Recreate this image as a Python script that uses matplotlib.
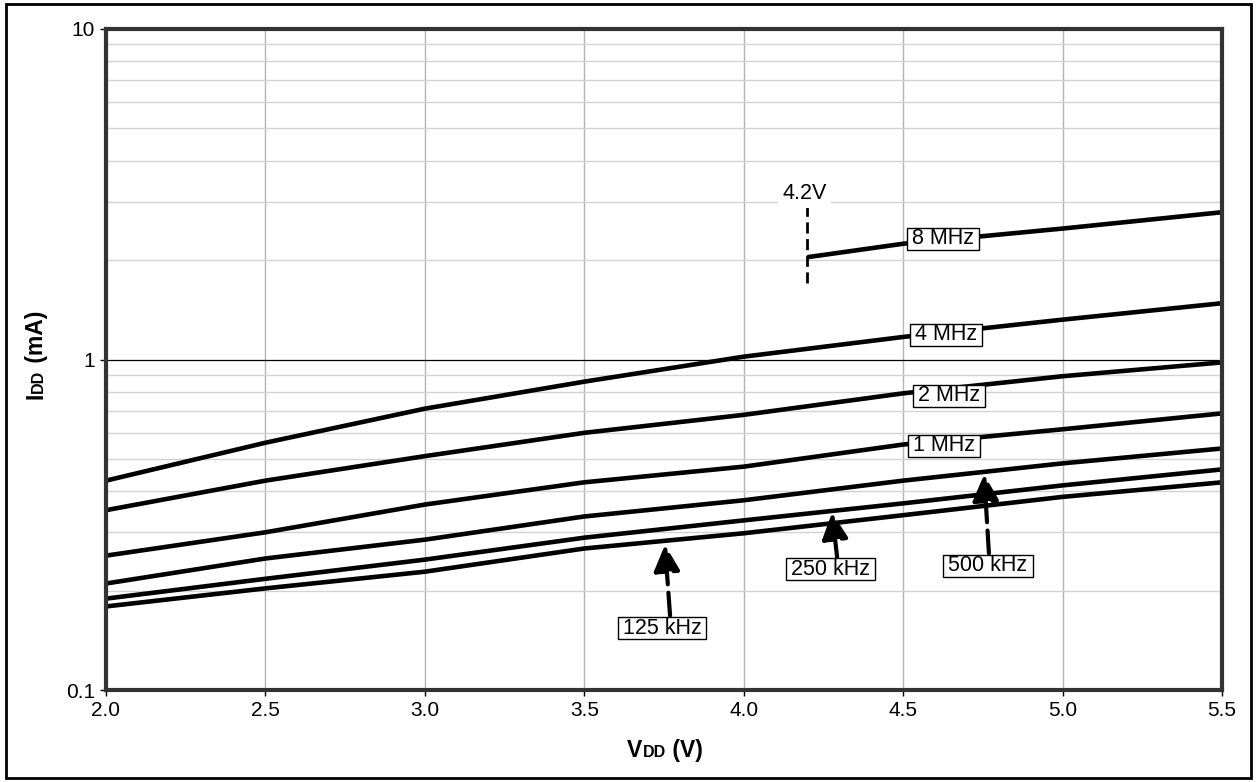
import numpy as np
import matplotlib
matplotlib.use("Agg")
import matplotlib.pyplot as plt
import matplotlib.ticker as mticker
import matplotlib.transforms as mtransforms
from matplotlib.patches import Rectangle

plt.rcParams['font.family'] = ['Liberation Sans', 'DejaVu Sans']

# supply voltage (V)
vdd = [2.0, 2.5, 3.0, 3.5, 4.0, 4.5, 5.0, 5.5]
vdd_8m = [4.2, 4.5, 5.0, 5.5]

# IDD (mA)
idd_125k = [0.179, 0.203, 0.228, 0.268, 0.298, 0.338, 0.384, 0.425]
idd_250k = [0.189, 0.217, 0.248, 0.289, 0.326, 0.367, 0.416, 0.465]
idd_500k = [0.210, 0.250, 0.285, 0.335, 0.375, 0.430, 0.485, 0.538]
idd_1m = [0.255, 0.300, 0.364, 0.425, 0.474, 0.553, 0.615, 0.687]
idd_2m = [0.350, 0.430, 0.510, 0.600, 0.680, 0.790, 0.890, 0.980]
idd_4m = [0.430, 0.560, 0.710, 0.857, 1.020, 1.170, 1.320, 1.480]
idd_8m = [2.04, 2.24, 2.49, 2.79]

xticks = [2.0, 2.5, 3.0, 3.5, 4.0, 4.5, 5.0, 5.5]
yticks = [0.1, 1, 10]
ytick_labels = ['0.1', '1', '10']

W, H = 1256, 782
fig = plt.figure(figsize=(W / 100, H / 100), dpi=100)
ax = fig.add_axes([106 / W, 1 - 690 / H, (1222 - 106) / W, (690 - 29) / H])

ax.set_yscale('log')
ax.set_xlim(2.0, 5.5)
ax.set_ylim(0.1, 10)

# grid
for v in xticks[1:-1]:
    ax.axvline(v, color='#b4b4b4', lw=1, zorder=0)
for dec in [0.1, 1]:
    for k in range(2, 10):
        ax.axhline(dec * k, color='#d2d2d2', lw=1, zorder=0)
ax.axhline(1, color='black', lw=0.9, zorder=0.5)

lw_curve = 3.3
for y in [idd_125k, idd_250k, idd_500k, idd_1m, idd_2m, idd_4m]:
    ax.plot(vdd, y, color='black', lw=lw_curve, solid_capstyle='butt', zorder=3)
ax.plot(vdd_8m, idd_8m, color='black', lw=lw_curve, solid_capstyle='butt', zorder=3)

# 4.2V marker
ax.plot([4.2, 4.2], [1.70, 3.03], color='black', lw=2.0, dashes=(4, 2), zorder=3)
ax.text(4.192, 3.18, '4.2V', ha='center', va='center', fontsize=15.5, zorder=4,
        bbox=dict(boxstyle='square,pad=0.2', fc='white', ec='none'))

labels = [
    ('8 MHz', 4.625, 2.32),
    ('4 MHz', 4.634, 1.19),
    ('2 MHz', 4.644, 0.778),
    ('1 MHz', 4.628, 0.549),
    ('125 kHz', 3.744, 0.154),
    ('250 kHz', 4.271, 0.232),
    ('500 kHz', 4.766, 0.238),
]
label_texts = []
for s, x, y in labels:
    t = ax.text(x, y, s, ha='center', va='center', fontsize=15.5, zorder=6)
    label_texts.append(t)

arrows = [
    ((3.753, 0.275), (3.769, 0.168)),
    ((4.277, 0.344), (4.293, 0.252)),
    ((4.754, 0.449), (4.769, 0.259)),
]
for tip, tail in arrows:
    ax.annotate('', xy=tip, xytext=tail, zorder=4,
                arrowprops=dict(arrowstyle='-|>,head_length=0.8,head_width=0.4',
                                linestyle=(0, (5.5, 2)), lw=3.0, fc='black',
                                ec='black', shrinkA=0, shrinkB=0, mutation_scale=20))

# axes styling
for sp in ax.spines.values():
    sp.set_color('#333333')
    sp.set_linewidth(3)
    sp.set_zorder(7)
ax.set_xticks(xticks)
ax.xaxis.set_major_formatter(mticker.FormatStrFormatter('%.1f'))
ax.yaxis.set_major_locator(mticker.FixedLocator(yticks))
ax.yaxis.set_major_formatter(mticker.FixedFormatter(ytick_labels))
ax.yaxis.set_minor_locator(mticker.NullLocator())
ax.tick_params(direction='out', length=4, width=1, color='black', labelsize=15, pad=4)

renderer = fig.canvas.get_renderer()
px = mtransforms.IdentityTransform()

# tight boxes around the curve labels
for t in label_texts:
    bb = t.get_window_extent(renderer)
    ax.add_patch(Rectangle((bb.x0 - 5, bb.y0 - 0.5), bb.width + 10, bb.height + 1,
                           transform=px, fc='white', ec='black', lw=1, zorder=5,
                           clip_on=False))


# compound axis labels (small "DD")
def text_width(s, size):
    t = fig.text(0, 0, s, fontsize=size, fontweight='bold')
    w = t.get_window_extent(renderer).width
    t.remove()
    return w


xl_pieces = [('V', 16.5), ('DD', 11.5), (' (V)', 16.5)]
widths = [text_width(s, f) for s, f in xl_pieces]
x0 = 665 - sum(widths) / 2
for (s, f), w in zip(xl_pieces, widths):
    fig.text(x0, H - 757, s, fontsize=f, fontweight='bold', transform=px,
             ha='left', va='baseline')
    x0 += w

yl_pieces = [('I', 16.5), ('DD', 11.5), (' (mA)', 16.5)]
widths = [text_width(s, f) for s, f in yl_pieces]
y0 = H - 355 - sum(widths) / 2
for (s, f), w in zip(yl_pieces, widths):
    fig.text(43, y0, s, fontsize=f, fontweight='bold', transform=px, rotation=90,
             rotation_mode='anchor', ha='left', va='baseline')
    y0 += w

# outer frame
fig.patches.append(Rectangle((6 / W, 1 - 778 / H), (1251 - 6) / W, (778 - 4) / H,
                             transform=fig.transFigure, fill=False, ec='black', lw=2))

fig.savefig('out.png', dpi=100)
